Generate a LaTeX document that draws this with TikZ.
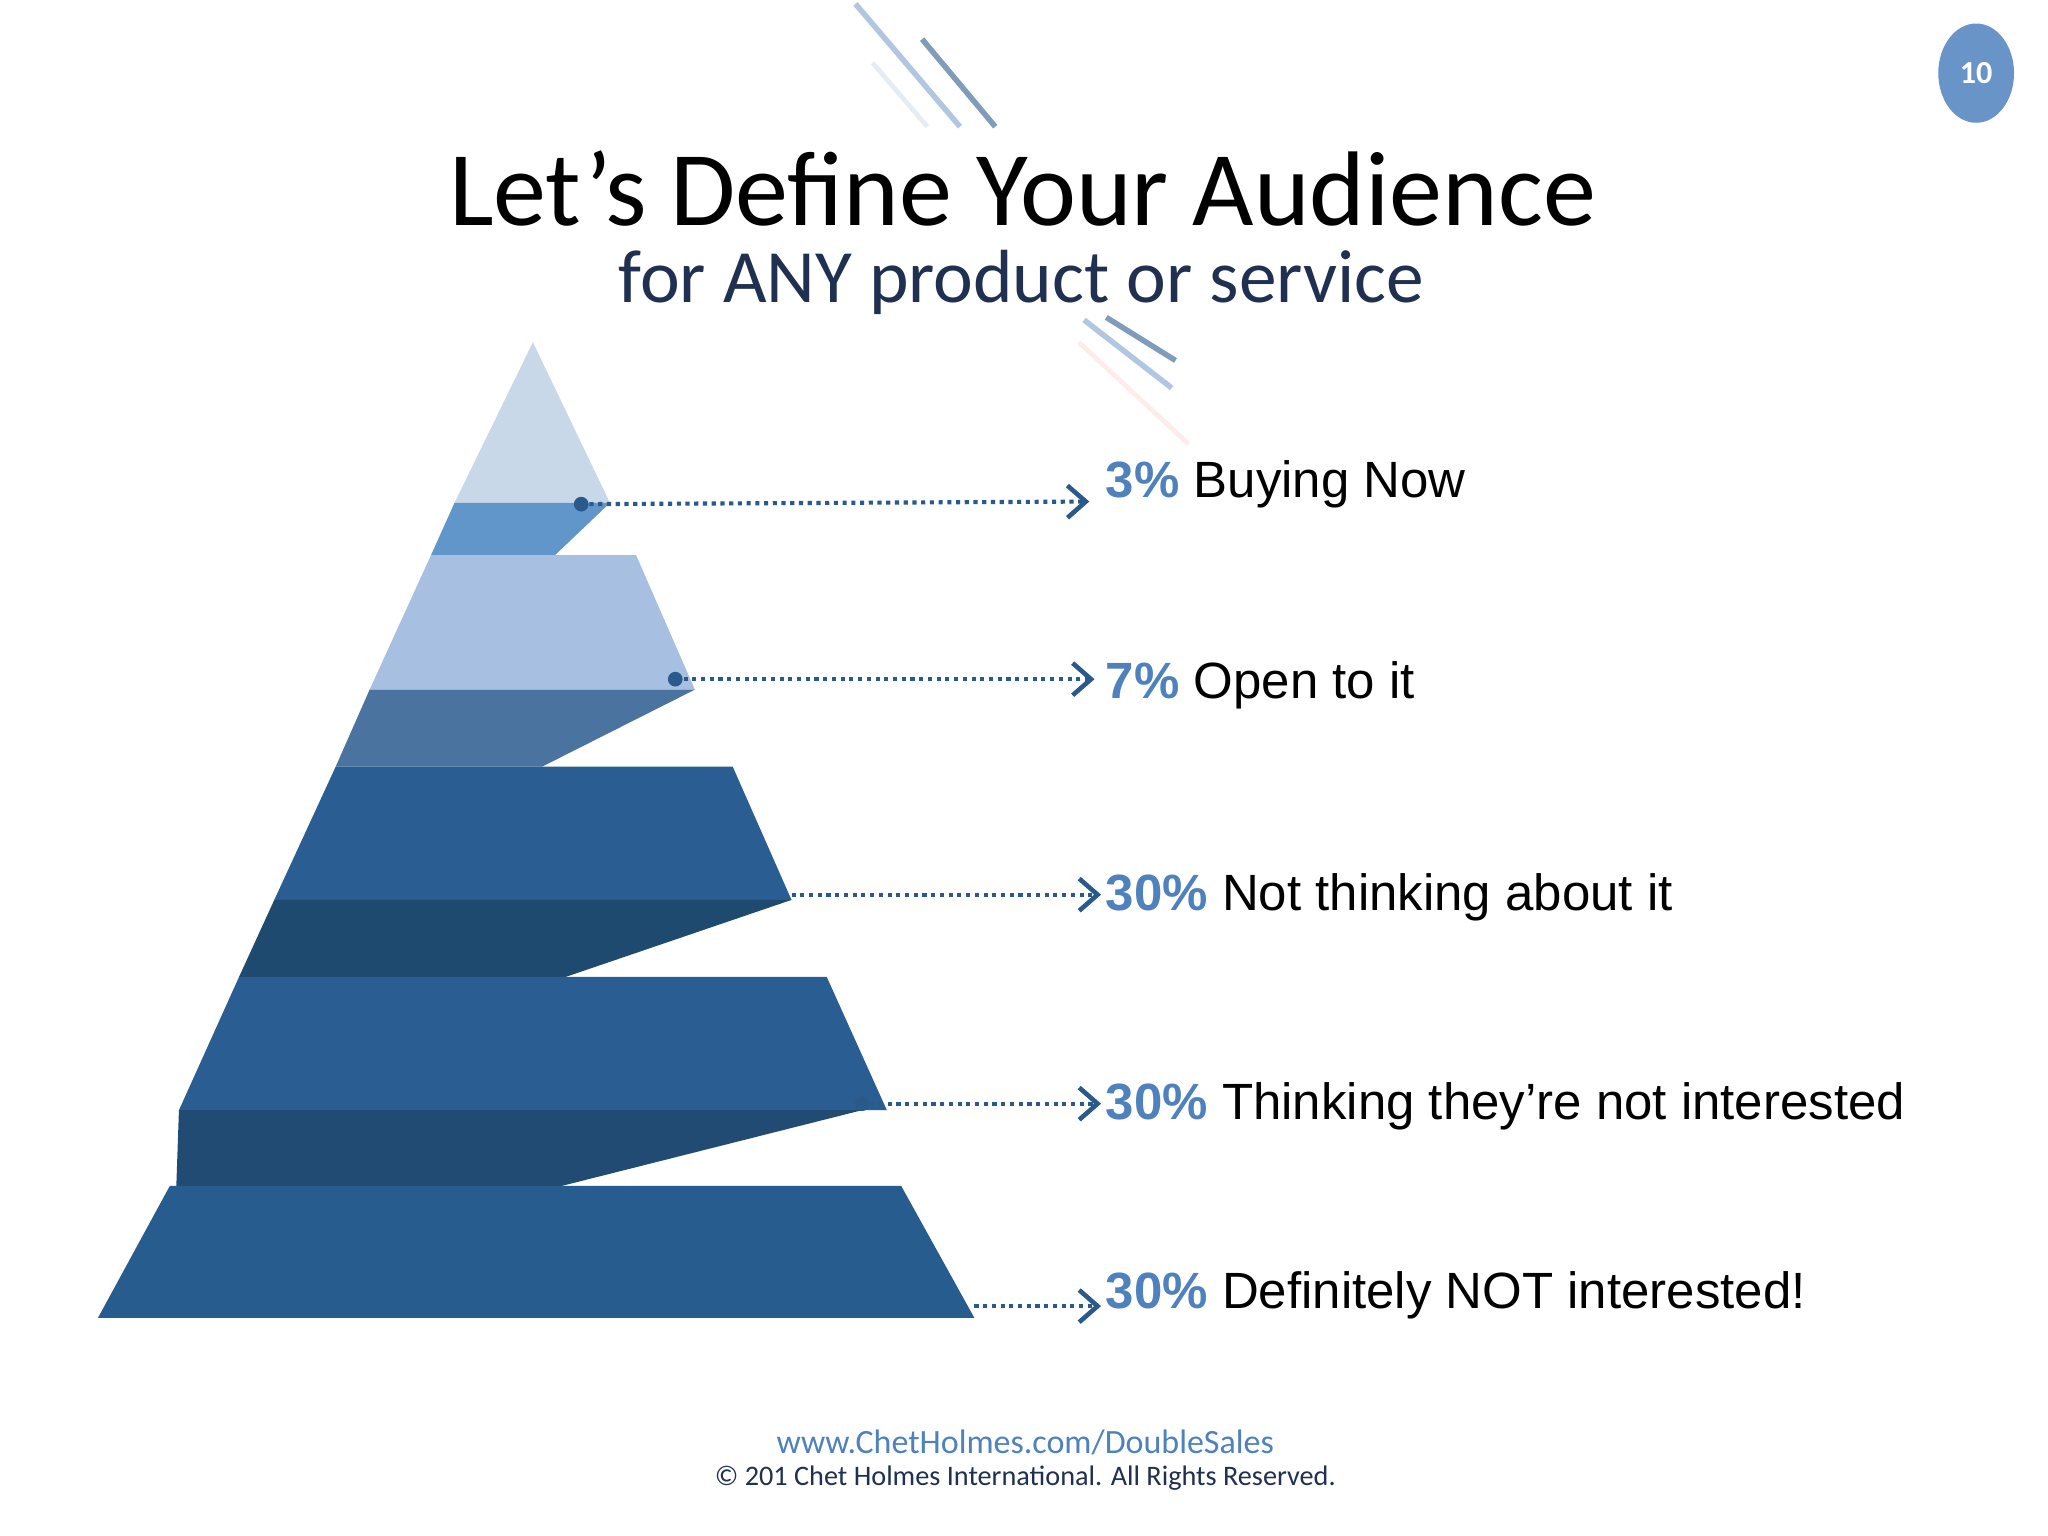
\documentclass[tikz,border=0pt]{standalone}
\usetikzlibrary{arrows.meta}
\usepackage{fontspec}
\setmainfont{Carlito}
\newfontfamily\arialf{Liberation Sans}
\definecolor{pblue}{HTML}{4F81BD}
\definecolor{dblue}{HTML}{2A5A8C}
\definecolor{navy}{HTML}{1F3050}
\definecolor{cA}{HTML}{C8D8E8}
\definecolor{cB}{HTML}{6096CA}
\definecolor{cC}{HTML}{A7BFE0}
\definecolor{cD}{HTML}{4A73A0}
\definecolor{cE}{HTML}{2A5E92}
\definecolor{cF}{HTML}{1F4A70}
\definecolor{cG}{HTML}{214B72}
\definecolor{cH}{HTML}{275C8E}
\begin{document}
\begin{tikzpicture}[x=0.01cm,y=-0.01cm,
  lbl/.style={anchor=west,font=\arialf\fontsize{11.1}{13}\selectfont,inner sep=0pt},
  conn/.style={draw=dblue,densely dotted,line width=0.9pt,-{Straight Barb[length=4pt,width=7pt,line width=1pt]}},
  dotn/.style={circle,fill=dblue,inner sep=0pt,minimum size=3.2pt}]
\useasboundingbox (0,0) rectangle (1568,1176);
\fill[white] (0,0) rectangle (1568,1176);
% decorative lines
\draw[line width=1.2pt,color=pblue!45] (655,3)--(735,97);
\draw[line width=1.2pt,color=dblue!60] (706,30)--(762,97);
\draw[line width=1pt,color=pblue!15] (668,48)--(710,97);
\draw[line width=1.2pt,color=pblue!45] (830,245)--(897,297);
\draw[line width=1.2pt,color=dblue!60] (847,243)--(900,276);
\draw[line width=1pt,color=red!8] (826,262)--(910,340);
% page number
\fill[color=pblue!85] (1513,56) ellipse (29 and 38);
\node[text=white,font=\bfseries\fontsize{7}{8}\selectfont] (pg) at (1513,56) {10};
% title
\node[font=\fontsize{23.1}{27}\selectfont,inner sep=0pt] (title) at (783,144) {Let’s Define Your Audience};
\node[font=\fontsize{16.4}{19}\selectfont,text=navy,inner sep=0pt] (sub) at (782,216) {for ANY product or service};
% pyramid
\fill[cA] (408,262)--(467,385)--(348,385)--cycle;
\fill[cB] (348,385)--(467,385)--(425,425)--(330,425)--cycle;
\fill[cC] (330,425)--(487,425)--(532,528)--(283,528)--cycle;
\fill[cD] (283,528)--(532,528)--(415,587)--(257,587)--cycle;
\fill[cE] (257,587)--(561,587)--(606,689)--(210,689)--cycle;
\fill[cF] (210,689)--(606,689)--(433,748)--(183,748)--cycle;
\fill[cE] (183,748)--(633,748)--(679,850)--(137,850)--cycle;
\fill[cG] (137,850)--(660,850)--(430,908)--(135,908)--cycle;
\fill[cH] (130,908)--(690,908)--(746,1009)--(75,1009)--cycle;
% dots & labels
\node[dotn] (d1) at (445,386) {};
\node[dotn] (d2) at (517,520) {};
\coordinate (d3) at (606,685);
\node[dotn] (d4) at (660,845) {};
\coordinate (d5) at (746,1000);
\node[lbl] (l1) at (846,371) {\textcolor{pblue}{\bfseries 3\%} Buying Now};
\node[lbl] (l2) at (846,525) {\textcolor{pblue}{\bfseries 7\%} Open to it};
\node[lbl] (l3) at (846,687) {\textcolor{pblue}{\bfseries 30\%} Not thinking about it};
\node[lbl] (l4) at (846,847) {\textcolor{pblue}{\bfseries 30\%} Thinking they’re not interested};
\node[lbl] (l5) at (846,992) {\textcolor{pblue}{\bfseries 30\%} Definitely NOT interested!};
\coordinate (e1) at (834,384);
\coordinate (e2) at (838,520);
\coordinate (e3) at (843,685);
\coordinate (e4) at (843,845);
\coordinate (e5) at (843,1000);
\draw[conn] (d1)--(e1);
\draw[conn] (d2)--(e2);
\draw[conn] (d3)--(e3);
\draw[conn] (d4)--(e4);
\draw[conn] (d5)--(e5);
% footer
\node[text=pblue,font=\fontsize{7.4}{9}\selectfont] (f1) at (785,1104) {www.ChetHolmes.com/DoubleSales};
\node[text=navy,font=\fontsize{6.15}{7}\selectfont] (f2) at (785,1132) {© 201 Chet Holmes International. All Rights Reserved.};
\end{tikzpicture}
\end{document}
